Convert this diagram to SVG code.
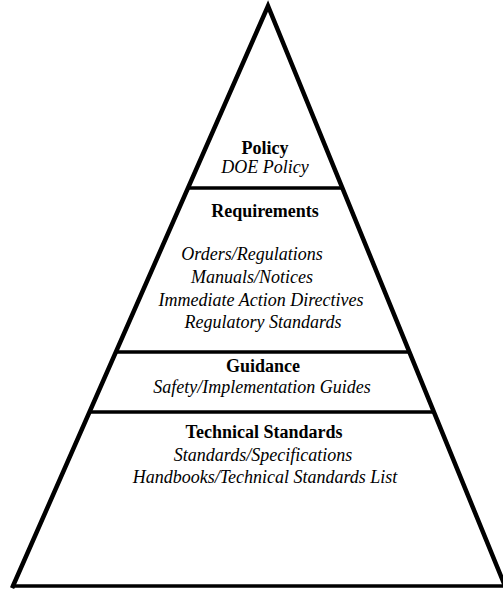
<svg xmlns="http://www.w3.org/2000/svg" width="503" height="589" viewBox="0 0 503 589">
<style>
.edge{stroke:#000;stroke-width:4.5;fill:none;stroke-linejoin:miter;stroke-linecap:square}
.div{stroke:#000;stroke-width:3.5}
.h{font-family:"Liberation Serif","Times New Roman",serif;font-weight:bold;font-size:18px;text-anchor:middle;fill:#000}
.t{font-family:"Liberation Serif","Times New Roman",serif;font-style:italic;font-size:18px;text-anchor:middle;fill:#000}
</style>
<rect width="503" height="589" fill="#fff"/>
<g id="connectors">
<path class="edge" d="M13,586 L268,6 L505,586"/>
<line class="div" x1="13" y1="586" x2="503" y2="586"/>
<line class="div" x1="188" y1="188" x2="342" y2="188"/>
<line class="div" x1="116" y1="352" x2="410" y2="352"/>
<line class="div" x1="89" y1="412" x2="435" y2="412"/>
</g>
<g id="policy">
<text class="h" x="265" y="154">Policy</text>
<text class="t" x="265" y="173">DOE Policy</text>
</g>
<g id="requirements">
<text class="h" x="265" y="217">Requirements</text>
<text class="t" x="252" y="260">Orders/Regulations</text>
<text class="t" x="252" y="283">Manuals/Notices</text>
<text class="t" x="261" y="306">Immediate Action Directives</text>
<text class="t" x="263" y="328">Regulatory Standards</text>
</g>
<g id="guidance">
<text class="h" x="263" y="372">Guidance</text>
<text class="t" x="262" y="393">Safety/Implementation Guides</text>
</g>
<g id="technical">
<text class="h" x="264" y="438">Technical Standards</text>
<text class="t" x="263" y="461">Standards/Specifications</text>
<text class="t" x="265" y="483">Handbooks/Technical Standards List</text>
</g>
</svg>
